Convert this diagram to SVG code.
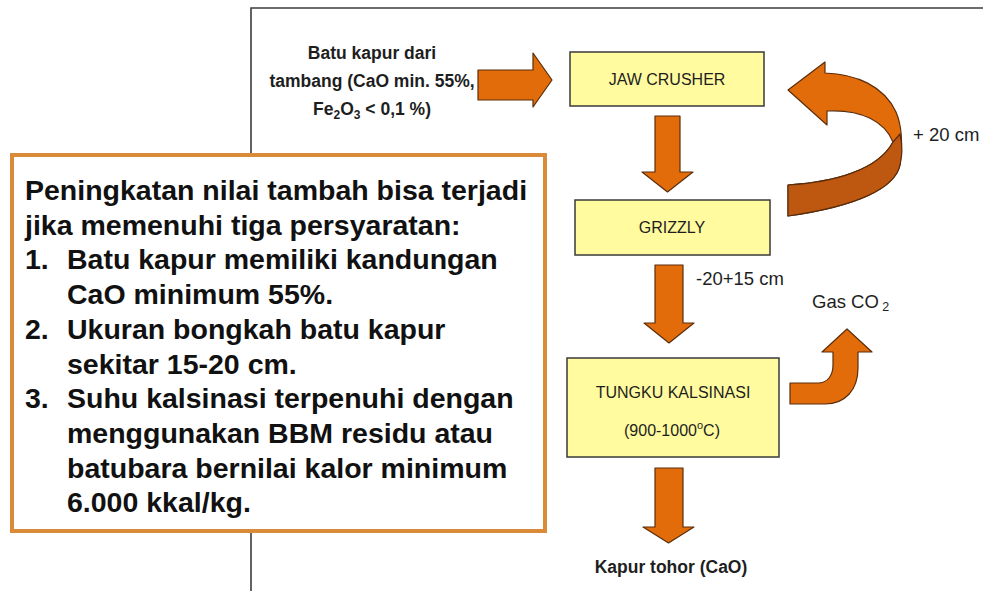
<svg xmlns="http://www.w3.org/2000/svg" width="983" height="591" viewBox="0 0 983 591">
<style>
.frame{fill:none;stroke:#3c3c3c;stroke-width:1.6}
.box{fill:#FFFB9E;stroke:#3a3a3a;stroke-width:1.5}
.arrow{fill:#E36C0A;stroke:#5a2d0c;stroke-width:1.2;stroke-linejoin:round}
.dark{fill:#BE5810;stroke:#5a2d0c;stroke-width:1.2;stroke-linejoin:round}
.lbl{font-family:"Liberation Sans",Arial,sans-serif;font-size:16px;fill:#1e1e1e;text-anchor:middle}
.in{font-family:"Liberation Sans",Arial,sans-serif;font-size:17.5px;font-weight:bold;fill:#1e1e1e;text-anchor:middle}
.side{font-family:"Liberation Sans",Arial,sans-serif;font-size:18.5px;fill:#1e1e1e}
.note{fill:#fff;stroke:#DA8B3A;stroke-width:4}
.nt{font-family:"Liberation Sans",Arial,sans-serif;font-size:28.5px;font-weight:bold;fill:#111}
</style>
<rect width="983" height="591" fill="#fff"/>
<path class="frame" d="M251,591 V8 H983"/>

<g id="input-label">
<text class="in" x="372" y="59">Batu kapur dari</text>
<text class="in" x="372" y="87">tambang (CaO min. 55%,</text>
<text class="in" x="372" y="115">Fe<tspan font-size="12" dy="4">2</tspan><tspan dy="-4">O</tspan><tspan font-size="12" dy="4">3</tspan><tspan dy="-4"> &lt; 0,1 %)</tspan></text>
</g>

<g id="jaw-crusher">
<rect class="box" x="570" y="52" width="194" height="54"/>
<text class="lbl" x="667" y="85">JAW CRUSHER</text>
</g>

<g id="grizzly">
<rect class="box" x="575" y="200" width="195" height="55"/>
<text class="lbl" x="672" y="233">GRIZZLY</text>
</g>

<g id="tungku-kalsinasi">
<rect class="box" x="567" y="358" width="212" height="99"/>
<text class="lbl" x="673" y="398">TUNGKU KALSINASI</text>
<text class="lbl" x="672" y="436">(900-1000<tspan font-size="11" dy="-7">o</tspan><tspan dy="7">C)</tspan></text>
</g>

<g id="output-label">
<text class="in" x="671" y="573">Kapur tohor (CaO)</text>
</g>

<g id="connectors">
<path class="arrow" d="M478,70 H533 V53 L552,80 L533,107 V100 H478 Z"/>
<path class="arrow" d="M655,116 H680 V172 H693 L667.5,192 L642,172 H655 Z"/>
<path class="arrow" d="M655,265 H683 V323 H694 L669,343 L644,323 H655 Z"/>
<path class="arrow" d="M655,468 H683 V527 H694 L668.5,543 L643,527 H655 Z"/>
<path class="arrow" d="M788,90 L825,62 L825,73 C856,74 884,86 896,112 C903,128 902,150 900,165 C895,188 858,206 788,216 L788,185 C835,182 878,170 893,142 C885,122 862,109 827,111 L827,125 Z"/>
<path class="dark" d="M900,134 C903,148 902,155 900,165 C895,188 858,206 788,216 L788,185 C835,182 878,170 893,142 Z"/>
<path class="arrow" d="M790,383 H818 C828,383 833,375 833,365 V352 H822 L847,329 L872,352 H858 V368 C858,390 845,404 825,404 H790 Z"/>
</g>

<g id="labels">
<text class="side" x="913" y="141">+ 20 cm</text>
<text class="side" x="696" y="285">-20+15 cm</text>
<text class="side" x="812" y="308">Gas CO<tspan font-size="12.5" dy="3"> 2</tspan></text>
</g>

<g id="note">
<rect class="note" x="12" y="155" width="533" height="376"/>
<text class="nt" x="25" y="200">Peningkatan nilai tambah bisa terjadi</text>
<text class="nt" x="25" y="234.7">jika memenuhi tiga persyaratan:</text>
<text class="nt" x="25" y="269.4">1.</text>
<text class="nt" x="67" y="269.4">Batu kapur memiliki kandungan</text>
<text class="nt" x="67" y="304.1">CaO minimum 55%.</text>
<text class="nt" x="25" y="338.8">2.</text>
<text class="nt" x="67" y="338.8">Ukuran bongkah batu kapur</text>
<text class="nt" x="67" y="373.5">sekitar 15-20 cm.</text>
<text class="nt" x="25" y="408.2">3.</text>
<text class="nt" x="67" y="408.2">Suhu kalsinasi terpenuhi dengan</text>
<text class="nt" x="67" y="442.9">menggunakan BBM residu atau</text>
<text class="nt" x="67" y="477.6">batubara bernilai kalor minimum</text>
<text class="nt" x="67" y="512.3">6.000 kkal/kg.</text>
</g>
</svg>
